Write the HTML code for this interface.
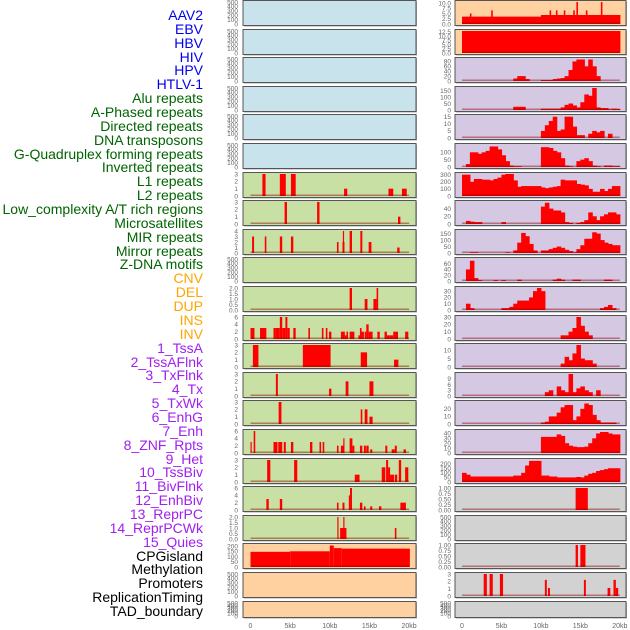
<!DOCTYPE html>
<html><head><meta charset="utf-8">
<style>
html,body{margin:0;padding:0;background:#fff;}
#wrap{position:relative;width:630px;height:630px;overflow:hidden;font-family:"Liberation Sans",sans-serif;}
.lab{position:absolute;right:427px;font-size:14px;line-height:14px;white-space:nowrap;}
svg{position:absolute;left:0;top:0;}
</style></head><body>
<div id="wrap">
<div id="labels"></div>
<svg id="chart" width="630" height="630"></svg>
</div>
<script>
const labelNames = ["AAV2","EBV","HBV","HIV","HPV","HTLV-1","Alu repeats","A-Phased repeats","Directed repeats","DNA transposons","G-Quadruplex forming repeats","Inverted repeats","L1 repeats","L2 repeats","Low_complexity A/T rich regions","Microsatellites","MIR repeats","Mirror repeats","Z-DNA motifs","CNV","DEL","DUP","INS","INV","1_TssA","2_TssAFlnk","3_TxFlnk","4_Tx","5_TxWk","6_EnhG","7_Enh","8_ZNF_Rpts","9_Het","10_TssBiv","11_BivFlnk","12_EnhBiv","13_ReprPC","14_ReprPCWk","15_Quies","CPGisland","Methylation","Promoters","ReplicationTiming","TAD_boundary"];
const labelGroups = [6,13,5,15,5];
const groupColors = ["#0000ee","#006400","#ffa500","#a020f0","#000000"];

// Left column: bars [startKb, endKb, value]
const leftBars = [
 [],[],[],[],[],[],
 [[1.5,1.9,3],[3.7,4.45,3],[5.1,5.7,3],[11.8,12.2,1],[17.4,18,1],[19.1,19.7,1]],
 [[4.3,4.6,3],[8.4,8.7,3],[18.6,18.9,1]],
 [[0.2,0.45,3],[1.8,2,3],[3.7,4,3],[5.1,5.4,3],[10.9,11.1,2],[11.6,11.85,2],[11.65,11.8,4],[12.5,12.8,4],[13.85,14.1,4],[14.9,15.25,2],[18.5,18.8,1]],
 [],
 [[12.5,12.8,2],[14.4,14.75,1],[15.5,15.9,1],[15.9,16.1,2]],
 [[0,0.5,3],[1.2,2,3],[2.9,3.2,3],[3.2,3.7,3],[3.7,4,6],[4,4.4,3],[4.4,4.65,6],[4.65,4.95,3],[5.4,5.7,3],[7.3,7.5,3],[9,9.2,3],[9.5,9.7,3],[9.9,10.2,2],[11.4,11.9,2],[11.9,12.1,1],[12.1,12.3,2],[12.5,13.1,2],[13.6,13.8,1],[13.8,14,3],[14,14.3,2],[14.4,14.6,2],[14.6,14.9,4],[14.9,15.4,2],[16,16.3,2],[16.9,17.2,2],[17.2,17.5,1],[17.5,18,1],[18,18.6,2],[19.5,19.9,2]],
 [[0.3,1.0,3],[6.6,10.1,3],[13.9,14.7,2],[18.1,18.65,1]],
 [[3.2,3.45,3],[9.9,10.2,1],[12,12.35,2],[15,15.5,2]],
 [[3.55,3.9,3],[13.9,14.1,2],[14.4,14.75,2],[15,15.4,1]],
 [[0,0.15,3],[0.4,0.6,6],[2.9,3.4,3],[3.5,4,3],[4.2,4.45,3],[5.1,5.4,3],[7.5,7.8,3],[8.7,8.9,3],[9.1,9.3,3],[10.9,11.1,2],[11.4,11.8,2],[11.7,11.85,4],[12.5,12.85,4],[12.85,13.1,2],[13.8,14.1,2],[14.3,14.55,2],[14.6,14.9,2],[15.1,15.35,1],[17,17.25,2],[17.8,18.2,1],[18.2,18.45,2],[19.3,19.6,1]],
 [[2.1,2.5,3],[5.5,5.9,3],[13.15,13.75,1],[16.55,17,2],[17.1,17.35,3],[17.35,17.6,2],[17.6,18.1,1],[18.2,18.5,1],[18.7,19,3],[19.5,19.9,2]],
 [[2,2.3,3],[3.7,4,3],[10.9,11.1,2],[11.6,11.85,2],[12.4,12.55,4],[12.55,12.8,6],[13.8,14.1,2],[14.3,14.5,1],[15.1,15.35,1],[16.2,16.5,1],[18.9,19.6,2]],
 [[10.95,11.1,2],[11.3,12.1,1],[11.7,11.85,2],[18.2,18.4,1]],
 [[0,5,145],[5,10,150],[10,10.5,205],[10.5,11.5,180],[11.5,20.1,175]],
 [],[]
];
const leftMax = [500,500,500,500,500,500,3,3,4,500,2,6,3,3,3,6,3,6,2,210,500,500];
const leftTicks = [
 ["0","100","200","300","400","500"],["0","100","200","300","400","500"],["0","100","200","300","400","500"],["0","100","200","300","400","500"],["0","100","200","300","400","500"],["0","100","200","300","400","500"],
 ["0","1","2","3"],["0","1","2","3"],["0","1","2","3","4"],["0","100","200","300","400","500"],["0.0","0.5","1.0","1.5","2.0"],["0","2","4","6"],["0","1","2","3"],["0","1","2","3"],["0","1","2","3"],["0","2","4","6"],["0","1","2","3"],["0","2","4","6"],["0.0","0.5","1.0","1.5","2.0"],["0","50","100","150","200"],["0","100","200","300","400","500"],["0","100","200","300","400","500"]
];
// Right column: 40 bins of 0.5kb
const R0base = [3.5,3.5,3.5,3.5,3.5,3.5,3.5,3.5,3.5,3.5,3.5,3.5,3.5,3.5,3.5,3.5,3.5,3.5,3.5,3.5,4.3,4.3,4.3,4.3,4.3,4.3,4.3,4.3,4.3,4.3,4.3,4.3,4.3,4.3,4.3,4.3,4.3,4.3,4.3,4.3];
const R0spikes = [[1.1,5],[3.8,6.5],[11.2,6.5],[12,6.5],[13.0,6.5],[14.6,10.5],[14.2,6.5],[15.8,6.5],[17.7,10.5]];
const R1bins = [13,13,13,13,13,13,13,13,13,13,13,13,13,13,13,13,13,13,13,13,13,13,13,13,13,13,13,13,13,13,13,13,13,13,13,13,13,13,13,13];
const R2bins = [0,0,0,0,0,0,0,0,0,0,0,0,0,10,20,20,8,0,0,0,4,4,4,8,10,12,20,45,80,88,88,60,88,60,20,0,0,0,0,0];
const R3bins = [0,0,0,0,0,0,0,0,0,0,0,0,0,25,25,25,0,0,0,0,10,10,10,10,10,20,40,50,35,20,60,120,110,170,20,15,15,5,10,8];
const R4bins = [0,0,0,0,0,0,0,0,0,0,0,0,0,0,0,0,0,0,0,0,5,9,12,15,5,6,15,15,8,2,2,0,3,5,4,5,0,3,0,0];
const R5bins = [0,20,100,100,90,100,110,140,140,120,80,40,10,5,5,0,0,0,0,0,135,135,130,110,100,60,10,5,0,40,50,60,40,10,5,0,10,10,5,5];
const R6bins = [300,300,200,240,240,230,230,220,240,260,300,310,310,220,130,140,140,140,140,140,120,110,120,130,140,230,220,220,220,170,160,150,100,60,60,100,70,100,140,140];
const R7bins = [0,8,6,5,5,0,0,0,0,0,5,0,0,0,0,0,0,0,0,0,45,55,40,35,35,30,5,3,0,3,5,10,30,20,10,20,25,30,30,25];
const R8bins = [0,0,5,5,0,0,0,0,0,0,0,5,0,20,80,155,130,70,20,0,20,20,30,40,50,40,25,15,5,30,60,110,110,160,150,100,80,70,60,60];
const R9bins = [0,40,70,10,3,0,0,0,3,0,3,0,0,0,5,0,0,0,0,0,0,0,0,5,8,5,0,0,5,5,0,0,0,0,0,0,5,5,0,0];
const R10bins = [0,10,3,0,0,0,0,0,0,0,3,3,5,10,15,15,15,20,30,35,30,0,0,0,0,0,0,0,0,0,0,0,0,0,0,3,5,8,3,0];
const R11bins = [0,0,0,0,0,0,0,0,0,0,0,0,0,0,0,0,0,0,0,0,0,0,0,0,0,5,5,10,15,30,18,10,5,0,0,0,0,0,0,0];
const R12bins = [0,0,0,0,0,0,0,0,0,0,0,0,0,0,0,0,0,0,0,0,0,0,0,0,0,2,6,4,8,13,5,4,4,2,0,0,0,0,0,0];
const R13bins = [0,0,0,0,0,0,0,0,0,0,0,0,0,0,0,0,0,0,0,0,0,2,3,0,5,3,2,12,2,4,5,3,2,0,3,0,0,0,0,0];
const R14bins = [0,0,0,0,0,0,0,0,0,0,0,0,0,0,0,0,0,0,0,0,2,3,10,10,15,22,25,25,5,10,20,27,25,12,5,2,2,2,2,0];
const R15bins = [0,0,0,0,0,0,0,0,0,0,0,0,0,0,0,0,0,0,0,0,33,33,33,33,38,35,20,15,13,12,12,13,20,30,40,43,43,40,38,38];
const R16bins = [100,80,60,60,60,60,60,60,60,60,60,60,60,70,70,100,180,230,230,230,70,70,60,60,50,50,50,50,50,55,50,70,90,100,120,130,140,150,150,150];
const R17bars = [[14.4,15.95,1]];
const R19bars = [[14.4,14.7,1],[15.0,15.65,1]];
const R20bars = [[2.75,3.15,3],[3.5,3.9,3],[4.8,5.2,3],[10.5,10.75,2.2],[10.9,11.15,1.1],[15.45,15.7,2.2],[18.45,18.8,1.1],[19.2,19.5,2.2],[19.5,19.8,1.1]];
const rightBins = [R0base,R1bins,R2bins,R3bins,R4bins,R5bins,R6bins,R7bins,R8bins,R9bins,R10bins,R11bins,R12bins,R13bins,R14bins,R15bins,R16bins,null,null,null,null,null];
const rightBarsMap = {17:R17bars,19:R19bars,20:R20bars};
const rightMax = [10.5,13,90,170,15.5,150,310,57,170,76,35,30,13,11.5,29,45,240,1,500,1,3,500];
const rightTicks = [
 ["0.0","2.5","5.0","7.5","10.0"],["0.0","2.5","5.0","7.5","10.0","12.5"],["0","20","40","60","80"],["0","50","100","150"],["0","5","10","15"],["0","50","100"],["0","100","200","300"],["0","20","40"],["0","50","100","150"],["0","20","40","60"],["0","10","20","30"],["0","10","20","30"],["0","5","10"],["0","3","6","9"],["0","10","20"],["0","10","20","30","40"],["0","50","100","150","200"],["0.00","0.25","0.50","0.75","1.00"],["0","100","200","300","400","500"],["0.00","0.25","0.50","0.75","1.00"],["0","1","2","3"],["0","100","200","300","400","500"]
];
const xTickKb = [0,5,10,15,20];
const xTickLabels = ["0","5kb","10kb","15kb","20kb"];

const NS="http://www.w3.org/2000/svg";
const svg=document.getElementById('chart');
function mk(tag,attrs,parent){const e=document.createElementNS(NS,tag);for(const k in attrs)e.setAttribute(k,attrs[k]);(parent||svg).appendChild(e);return e;}

const labDiv=document.getElementById('labels');
let li=0;
labelGroups.forEach((n,g)=>{for(let k=0;k<n;k++){const d=document.createElement('div');d.className='lab';d.textContent=labelNames[li];d.style.color=groupColors[g];d.style.top=(8+li*13.86)+'px';


labDiv.appendChild(d);li++;}});

const cols=[{x0:243,x1:416,ox:250.5,k:7.93,tickX:238},{x0:455,x1:626,ox:462,k:7.89,tickX:451}];
function leftBg(i){return i<6?'#c8e3ec':(i<19?'#c8e0a3':'#ffd0a0');}
function rightBg(i){return i<2?'#ffd0a0':(i<17?'#d5c8e3':'#d2d2d2');}
const hasBaseL=i=>leftBars[i].length>0;
const hasBaseR=i=>!(i===18||i===21);

for(let c=0;c<2;c++){
 const col=cols[c];
 const xs=kb=>col.ox+kb*col.k;
 for(let i=0;i<22;i++){
  const top=Math.round(i*28.6)+0.5, h=(i===21?16:25);
  const bottom=top+h-1.5, ih=h-3;
  const ymax=c?rightMax[i]:leftMax[i];
  const ys=v=>bottom-Math.min(v,ymax)/ymax*ih;
  const g=mk('g',{});
  
  
  mk('rect',{x:col.x0+1,y:top+1,width:col.x1-col.x0,height:h,fill:'#aaa'},g);
  mk('rect',{x:col.x0,y:top,width:col.x1-col.x0,height:h,fill:c?rightBg(i):leftBg(i),stroke:'#555','stroke-width':1},g);
  let bars=[];
  if(c===0) bars=leftBars[i];
  else if(rightBins[i]){rightBins[i].forEach((v,b)=>{if(v>0)bars.push([b*0.5,b*0.5+0.5,v,1]);});
   if(i===0)R0spikes.forEach(s=>bars.push([s[0]-0.1,s[0]+0.1,s[1]]));}
  else if(rightBarsMap[i]) bars=rightBarsMap[i];
  bars.forEach(b=>{const w=Math.max(1,xs(b[1])-xs(b[0]))+(b[3]?0.6:0);
   const r=mk('rect',{x:xs(b[0]),y:ys(b[2]),width:w,height:bottom-ys(b[2]),fill:'#ff0000'},g);
   
   });
  if(c===0?hasBaseL(i):hasBaseR(i)) mk('rect',{x:xs(0),y:bottom-1.5,width:xs(20)-xs(0),height:1.5,fill:'rgba(140,0,0,0.45)'},g);
  const tl=c?rightTicks[i]:leftTicks[i];
  tl.forEach(t=>{const v=parseFloat(t);const tx=mk('text',{x:col.tickX,y:ys(v)+2.3,'font-size':6.5,fill:'#666','text-anchor':'end','font-family':'Liberation Sans, sans-serif'},g);tx.textContent=t;
   
   });
 }
 xTickKb.forEach((kb,j)=>{const t=mk('text',{x:xs(kb),y:628,'font-size':7,fill:'#666','text-anchor':'middle','font-family':'Liberation Sans, sans-serif'});t.textContent=xTickLabels[j];
  
  });
}
</script>
</body></html>
